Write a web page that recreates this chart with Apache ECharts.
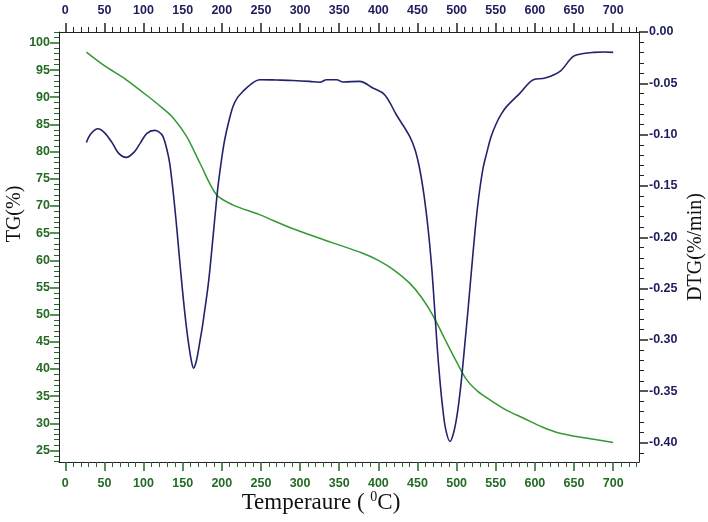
<!DOCTYPE html>
<html>
<head>
<meta charset="utf-8">
<script src="https://cdn.jsdelivr.net/npm/echarts@6/dist/echarts.min.js"></script>
<style>
  html, body { margin: 0; padding: 0; background: #fff; }
  #main { width: 708px; height: 522px; }
</style>
</head>
<body>
<div id="main"></div>
<script>
// TG curve (left axis, %)
var tgTemp = [27, 50, 78, 108, 125, 138, 155, 172, 193, 214, 248, 291, 340, 380, 400, 420, 440, 455, 470, 485, 500, 513, 527, 543, 563, 585, 610, 632, 665, 700];
var tgValue = [98.3, 95.8, 93.2, 89.9, 87.9, 86.2, 82.8, 77.9, 72.1, 70.2, 68.4, 65.8, 63.3, 61.3, 60.0, 58.2, 55.8, 53.2, 49.8, 45.5, 41.3, 38.0, 35.9, 34.3, 32.5, 31.0, 29.3, 28.2, 27.3, 26.5];

// DTG curve (right axis, %/min)
var dtgTemp = [27, 33, 41.7, 50, 60, 68, 78, 88, 96, 104, 114, 120, 124.8, 130, 133.4, 137, 139.8, 142.7, 145.5, 148.3, 151.5, 154.7, 158, 161, 164, 167, 169.5, 171.7, 175, 178, 181, 183.6, 186.5, 189.6, 192.5, 195.2, 199.5, 203.7, 209, 214.3, 220, 227, 237, 248.5, 270, 291, 312, 325, 334, 346.5, 355, 376, 393, 408, 423, 440, 447, 453, 458.5, 463.7, 468, 471.5, 475, 478.6, 482, 486, 491.5, 496, 500, 503, 506.4, 510, 515, 519, 523.4, 526.5, 529.8, 534, 538.4, 544, 551, 557, 564, 581, 598, 613, 632, 649, 662, 674.7, 688, 700];
var dtgValue = [-0.1076, -0.099, -0.0943, -0.098, -0.108, -0.118, -0.1222, -0.117, -0.108, -0.099, -0.0959, -0.0975, -0.1017, -0.115, -0.1277, -0.150, -0.170, -0.193, -0.217, -0.240, -0.265, -0.287, -0.306, -0.320, -0.3275, -0.322, -0.313, -0.303, -0.288, -0.272, -0.256, -0.240, -0.218, -0.193, -0.170, -0.150, -0.125, -0.105, -0.087, -0.0725, -0.064, -0.0579, -0.051, -0.0465, -0.0468, -0.0472, -0.0481, -0.049, -0.0465, -0.0465, -0.0487, -0.0481, -0.0546, -0.0611, -0.0806, -0.1017, -0.115, -0.1342, -0.160, -0.1927, -0.228, -0.265, -0.305, -0.339, -0.365, -0.387, -0.399, -0.391, -0.376, -0.360, -0.337, -0.308, -0.267, -0.232, -0.195, -0.172, -0.152, -0.132, -0.118, -0.102, -0.0887, -0.080, -0.0725, -0.0595, -0.0465, -0.0449, -0.0384, -0.0238, -0.021, -0.0199, -0.0195, -0.0199];

// tick labels
var tempTicks = [0, 50, 100, 150, 200, 250, 300, 350, 400, 450, 500, 550, 600, 650, 700];
var tempMinor = [10, 20, 30, 40, 60, 70, 80, 90, 110, 120, 130, 140, 160, 170, 180, 190, 210, 220, 230, 240, 260, 270, 280, 290, 310, 320, 330, 340, 360, 370, 380, 390, 410, 420, 430, 440, 460, 470, 480, 490, 510, 520, 530, 540, 560, 570, 580, 590, 610, 620, 630, 640, 660, 670, 680, 690, 710, 720, 730];
var tgTicks = [25, 30, 35, 40, 45, 50, 55, 60, 65, 70, 75, 80, 85, 90, 95, 100];
var tgMinor = [23, 24, 26, 27, 28, 29, 31, 32, 33, 34, 36, 37, 38, 39, 41, 42, 43, 44, 46, 47, 48, 49, 51, 52, 53, 54, 56, 57, 58, 59, 61, 62, 63, 64, 66, 67, 68, 69, 71, 72, 73, 74, 76, 77, 78, 79, 81, 82, 83, 84, 86, 87, 88, 89, 91, 92, 93, 94, 96, 97, 98, 99, 101, 102];
var dtgTicks = [0, -0.05, -0.10, -0.15, -0.20, -0.25, -0.30, -0.35, -0.40];
var dtgMinor = [-0.01, -0.02, -0.03, -0.04, -0.06, -0.07, -0.08, -0.09, -0.11, -0.12, -0.13, -0.14, -0.16, -0.17, -0.18, -0.19, -0.21, -0.22, -0.23, -0.24, -0.26, -0.27, -0.28, -0.29, -0.31, -0.32, -0.33, -0.34, -0.36, -0.37, -0.38, -0.39, -0.41];

var green = '#236b23';
var navy = '#1c1c5e';
var labelFont = { fontFamily: 'Liberation Sans, Arial', fontWeight: 'bold', fontSize: 12.5 };

function pairs(xs, ys) {
  var out = [];
  for (var i = 0; i < xs.length; i++) out.push([xs[i], ys[i]]);
  return out;
}

// one axis with long ticks + labels, one with short ticks only
function xAx(pos, major, tickColor, labelColor, showLine) {
  return {
    type: 'value', position: pos, min: -8, max: 733,
    axisLine: { show: showLine, onZero: false, lineStyle: { color: '#222', width: 1 } },
    axisTick: major
      ? { show: true, customValues: tempTicks, length: 9, lineStyle: { color: tickColor, width: 1.5 } }
      : { show: true, customValues: tempMinor, length: 5, lineStyle: { color: tickColor, width: 1 } },
    axisLabel: major
      ? Object.assign({ show: true, customValues: tempTicks, color: labelColor, margin: 15 }, labelFont)
      : { show: false },
    splitLine: { show: false }
  };
}

function yAx(pos, min, max, ticks, minor, major, tickColor, labelColor, showLine, fmt, margin) {
  return {
    type: 'value', position: pos, min: min, max: max,
    axisLine: { show: showLine, onZero: false, lineStyle: { color: '#222', width: 1 } },
    axisTick: major
      ? { show: true, customValues: ticks, length: 9, lineStyle: { color: tickColor, width: 1.5 } }
      : { show: true, customValues: minor, length: 5, lineStyle: { color: tickColor, width: 1 } },
    axisLabel: major
      ? Object.assign({ show: true, customValues: ticks, color: labelColor, margin: margin, formatter: fmt }, labelFont)
      : { show: false },
    splitLine: { show: false }
  };
}

var chart = echarts.init(document.getElementById('main'));

var option = {
  animation: false,
  backgroundColor: '#fff',
  grid: { left: 59, right: 69, top: 32, bottom: 60, show: false },
  xAxis: [
    xAx('bottom', true, green, green, true),
    xAx('bottom', false, green, green, false),
    xAx('top', true, '#222', navy, true),
    xAx('top', false, '#222', navy, false)
  ],
  yAxis: [
    yAx('left', 22.9, 102, tgTicks, tgMinor, true, green, green, true, function (v) { return String(v); }, 9),
    yAx('left', 22.9, 102, tgTicks, tgMinor, false, green, green, false, null, 9),
    yAx('right', -0.419, 0, dtgTicks, dtgMinor, true, '#222', navy, true, function (v) { return v.toFixed(2); }, 10),
    yAx('right', -0.419, 0, dtgTicks, dtgMinor, false, '#222', navy, false, null, 10)
  ],
  series: [
    {
      name: 'TG', type: 'line', xAxisIndex: 0, yAxisIndex: 0,
      data: pairs(tgTemp, tgValue), smooth: 0.3, showSymbol: false,
      lineStyle: { color: '#339933', width: 1.5 }
    },
    {
      name: 'DTG', type: 'line', xAxisIndex: 0, yAxisIndex: 2,
      data: pairs(dtgTemp, dtgValue), smooth: 0.35, showSymbol: false,
      lineStyle: { color: '#22226e', width: 1.6 }
    }
  ],
  graphic: [
    {
      type: 'text', x: 15, y: 214, rotation: Math.PI / 2,
      style: { text: 'TG(%)', fill: '#111', font: '20px "Liberation Serif", "Times New Roman", serif', align: 'center', verticalAlign: 'middle' }
    },
    {
      type: 'text', x: 696, y: 247, rotation: Math.PI / 2,
      style: { text: 'DTG(%/min)', fill: '#111', font: '20px "Liberation Serif", "Times New Roman", serif', align: 'center', verticalAlign: 'middle' }
    },
    {
      type: 'text', x: 321, y: 503,
      style: {
        text: '{a|Temperaure ( }{s|0}{a|C)}',
        align: 'center', verticalAlign: 'middle',
        rich: {
          a: { fontFamily: 'Liberation Serif', fontSize: 23, fill: '#111', lineHeight: 26 },
          s: { fontFamily: 'Liberation Serif', fontSize: 14, fill: '#111', verticalAlign: 'top', lineHeight: 26, padding: [0, 0, 10, 0] }
        }
      }
    }
  ]
};

chart.setOption(option);
</script>
</body>
</html>
